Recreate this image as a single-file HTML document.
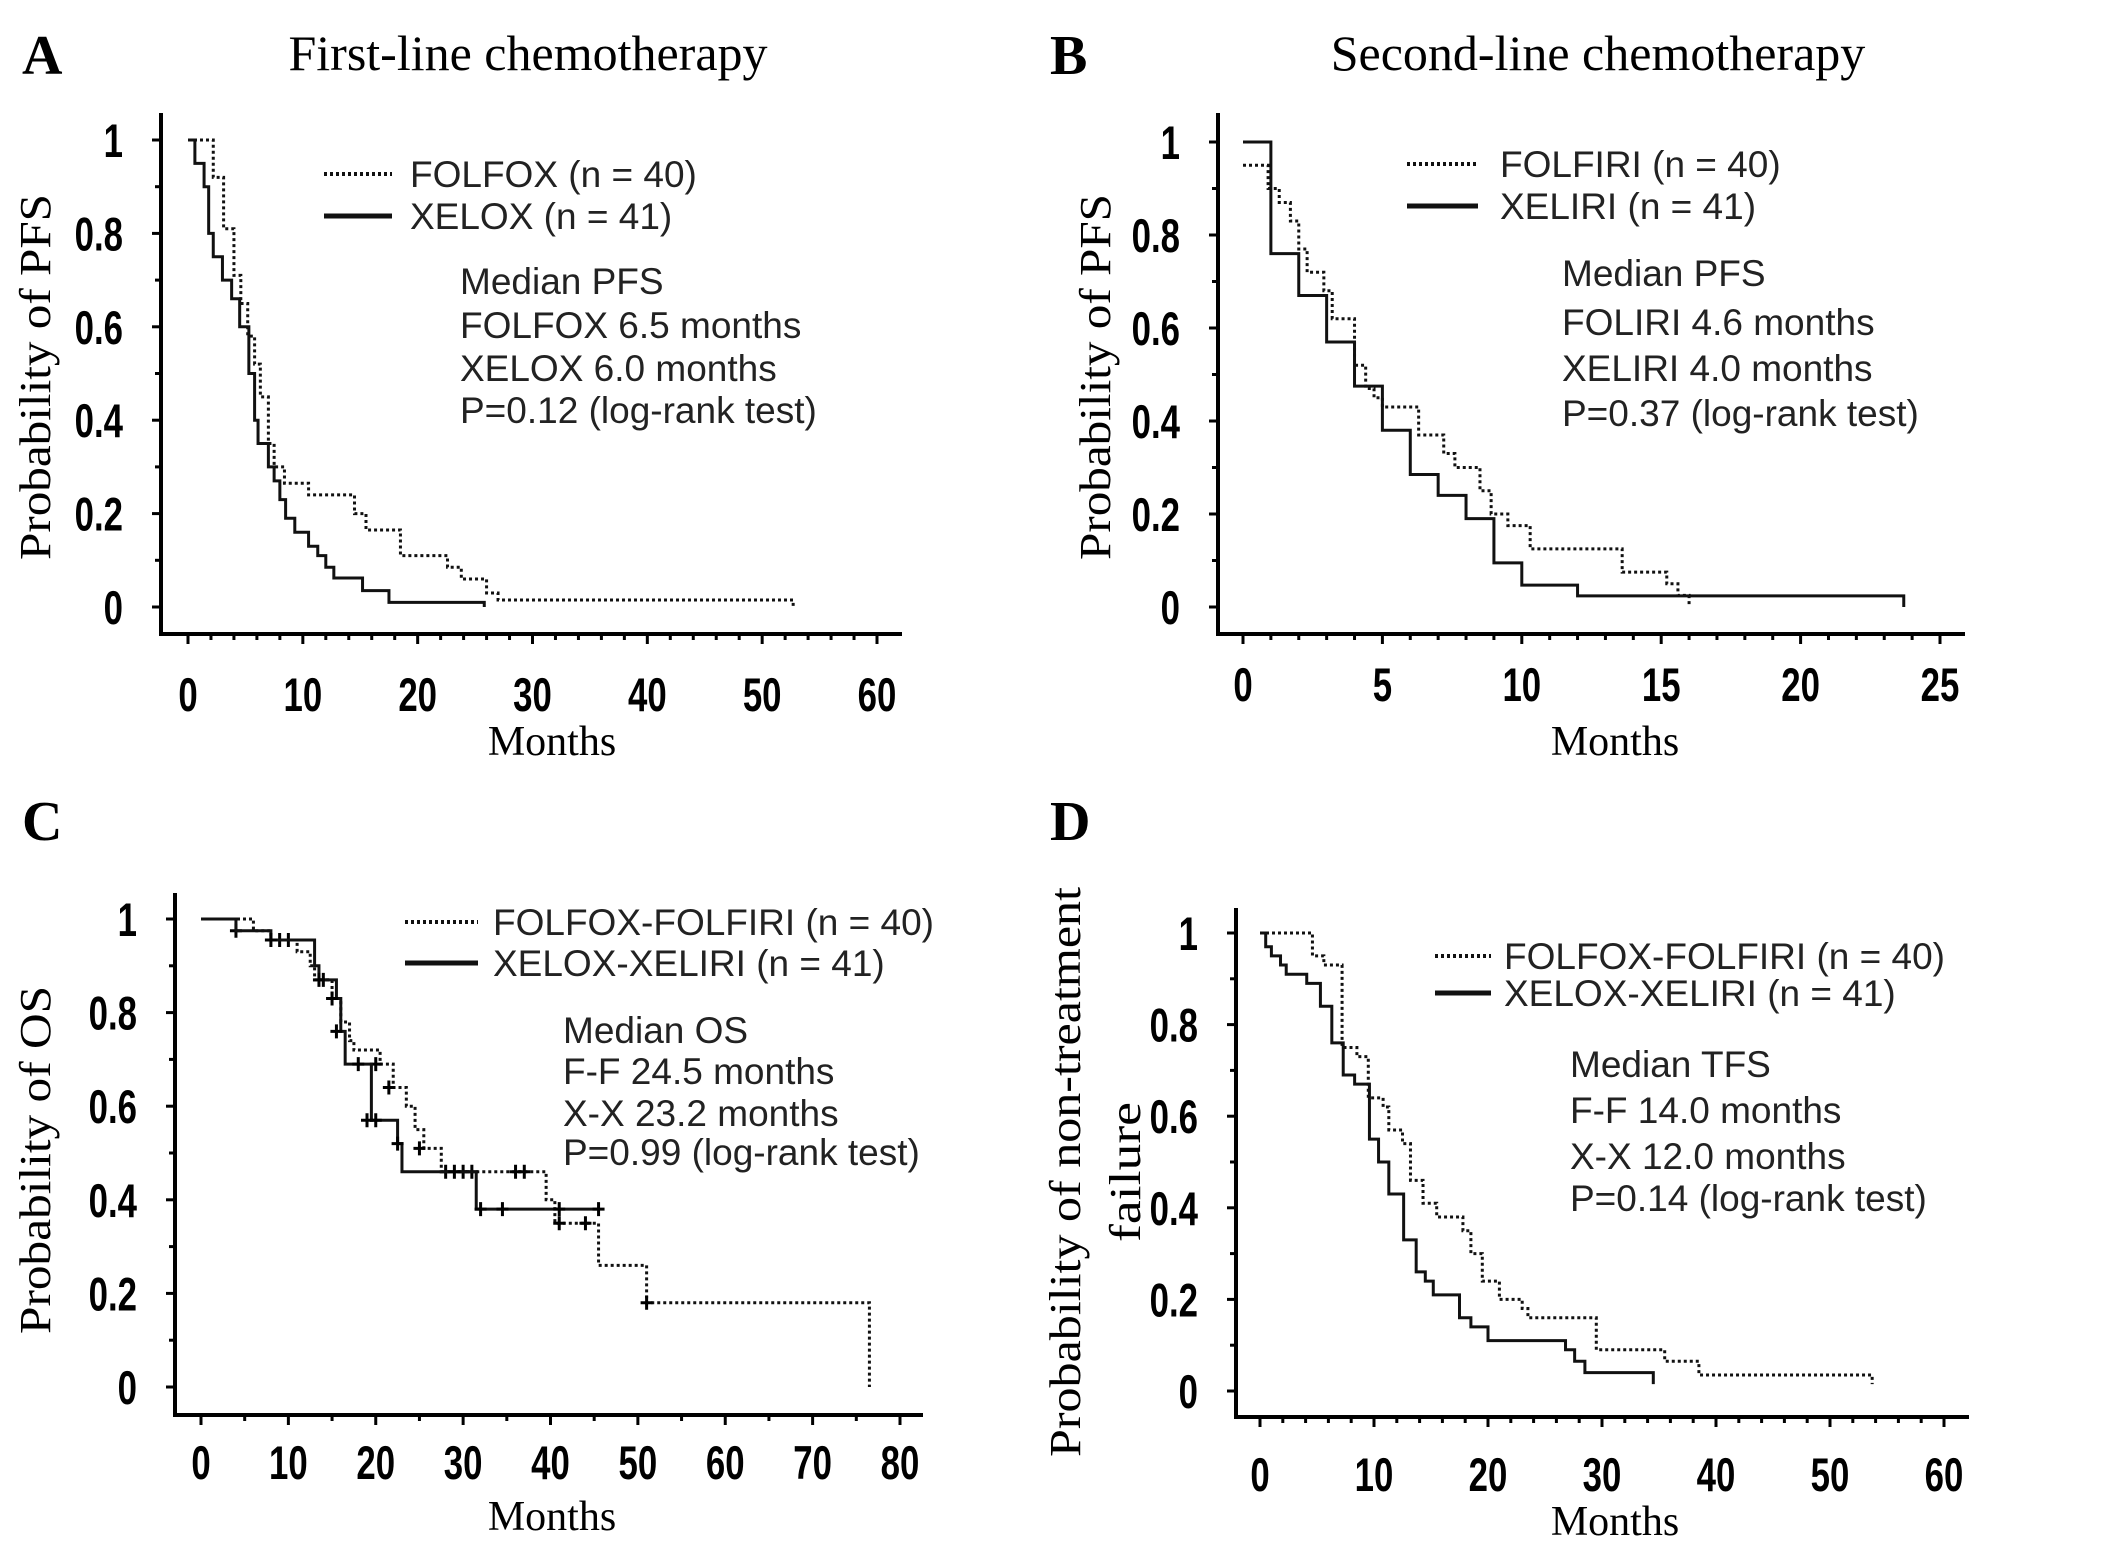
<!DOCTYPE html>
<html><head><meta charset="utf-8"><style>
html,body{margin:0;padding:0;background:#fff;}
svg{display:block;}
.sans{font-family:"Liberation Sans",Arial,sans-serif;}
.serif{font-family:"Liberation Serif","Times New Roman",serif;}
</style></head>
<body>
<svg id="fig" width="2126" height="1547" viewBox="0 0 2126 1547" xmlns="http://www.w3.org/2000/svg">
<rect width="2126" height="1547" fill="#fff"/>
</svg>
<script>
// ---- data ----
const yTickLabels = ["0","0.2","0.4","0.6","0.8","1"];
const xTicksA = [0,10,20,30,40,50,60];
const xTicksB = [0,5,10,15,20,25];
const xTicksC = [0,10,20,30,40,50,60,70,80];
const xTicksD = [0,10,20,30,40,50,60];

const aFolfoxT = [0,2.2,3.1,4,4.6,5.2,5.8,6.3,7,7.5,8.4,10.5,14.5,15.5,18.5,22.6,23.8,26,27,52.7];
const aFolfoxS = [1,0.92,0.81,0.71,0.65,0.58,0.52,0.45,0.35,0.30,0.265,0.24,0.20,0.165,0.11,0.085,0.06,0.03,0.015,0];
const aXeloxT = [0,0.6,1.4,1.8,2.2,3,3.8,4.5,5.3,5.8,6.1,7,7.5,8,8.5,9.3,10.5,11.3,12,12.7,15.2,17.5,21.5,25.8];
const aXeloxS = [1,0.95,0.9,0.8,0.75,0.7,0.66,0.6,0.5,0.4,0.35,0.3,0.27,0.23,0.19,0.16,0.13,0.11,0.085,0.062,0.035,0.01,0.01,0];

const bFolfiriT = [0,0.9,1.3,1.7,2,2.3,2.9,3.2,4,4.4,4.7,5,6.3,7.2,7.6,8.5,8.9,9.5,10.3,13.6,15.2,15.6,16];
const bFolfiriS = [0.95,0.9,0.87,0.83,0.77,0.72,0.68,0.62,0.52,0.47,0.45,0.43,0.37,0.33,0.30,0.25,0.2,0.175,0.125,0.075,0.05,0.025,0];
const bXeliriT = [0,1,2,3,4,5,6,7,8,9,10,12,23.7];
const bXeliriS = [1,0.76,0.67,0.57,0.475,0.38,0.285,0.24,0.19,0.095,0.047,0.024,0];

const cFfT = [0,6,8,11,12.5,13,15,16,17,17.5,20.5,22,23.5,24.5,25.5,27.5,39.5,40.5,45.5,51,76.5];
const cFfS = [1,0.975,0.955,0.93,0.9,0.87,0.83,0.78,0.74,0.72,0.69,0.64,0.6,0.55,0.51,0.46,0.4,0.35,0.26,0.18,0];
const cXxT = [0,4,8,13,13.5,15.5,16,16.5,19.5,22.5,23,31.5,45.5];
const cXxS = [1,0.975,0.955,0.9,0.87,0.83,0.76,0.69,0.57,0.52,0.46,0.38,0.38];
const cFfCensorT = [4,9,10,14,20,21.5,25,28,30,31,36,37,41,44,51];
const cFfCensorS = [0.975,0.955,0.955,0.87,0.69,0.64,0.51,0.46,0.46,0.46,0.46,0.46,0.35,0.35,0.18];
const cXxCensorT = [8,13.5,15,15.5,18,19,20,22.5,29,32,34.5,41,45.5];
const cXxCensorS = [0.955,0.87,0.83,0.76,0.69,0.57,0.57,0.52,0.46,0.38,0.38,0.38,0.38];

const dFfT = [0,4.6,5.6,7.2,8.5,9.5,10.8,11.3,12.5,13.2,14.3,15.5,17.8,18.5,19.5,21,23,23.5,29.5,35.5,38.5,53.7];
const dFfS = [1,0.95,0.93,0.75,0.73,0.64,0.62,0.57,0.54,0.46,0.41,0.38,0.35,0.3,0.24,0.2,0.18,0.16,0.09,0.065,0.035,0.015];
const dXxT = [0,0.5,1,1.8,2.3,4.1,5.3,6.3,7.3,8.3,9.6,10.4,11.3,12.6,13.7,14.5,15.2,17.5,18.5,20,26.8,27.6,28.5,30.3,34.5];
const dXxS = [1,0.97,0.95,0.93,0.91,0.89,0.84,0.76,0.69,0.67,0.55,0.5,0.43,0.33,0.26,0.24,0.21,0.16,0.14,0.11,0.09,0.065,0.04,0.04,0.015];

// ---- drawing ----
const NS = "http://www.w3.org/2000/svg";
const svg = document.getElementById('fig');
function mk(tag, attrs, parent){
  const e = document.createElementNS(NS, tag);
  for (const k in attrs) e.setAttribute(k, attrs[k]);
  (parent||svg).appendChild(e);
  return e;
}
function txt(str, attrs, parent){ const t = mk('text', attrs, parent); t.textContent = str; return t; }

function stepPath(T, S, sx, sy){
  let d = 'M' + sx(T[0]) + ',' + sy(S[0]);
  for (let i = 1; i < T.length; i++){
    d += ' H' + sx(T[i]) + ' V' + sy(S[i]);
  }
  return d;
}
const SX = 0.74;

function panel(c){
  const g = mk('g', {});
  
  
  const sx = v => c.x0 + (v - 0) * (c.xMaxPx - c.x0) / c.xMax;
  const sy = v => c.y0 + (c.y1 - c.y0) * v;
  const L = txt(c.letter, {x:c.letterX, y:c.letterY, 'font-size':56, 'font-weight':'bold', class:'serif'}, g);
  
  
  if (c.title){
    const t = txt(c.title, {x:c.titleX, y:c.titleY, 'font-size':50, 'text-anchor':'middle', class:'serif'}, g);
    
    
  }
  const ax = mk('path', {d:`M${c.axX},${c.axTop} V${c.axY} H${c.axRight}`, stroke:'#000', 'stroke-width':4, fill:'none'}, g);
  
  
  for (let k = 0; k <= 10; k++){
    const v = k/10, y = sy(v);
    mk('line', {x1:c.axX - (k%2===0?9:6), x2:c.axX, y1:y, y2:y, stroke:'#000', 'stroke-width':3}, g);
  }
  yTickLabels.forEach((lab, i) => {
    const t = txt(lab, {x:(c.axX - 38)/SX, y:sy(i*0.2) + 17, 'font-size':47, 'font-weight':'bold', 'text-anchor':'end', class:'sans', transform:`scale(${SX},1)`}, g);
    
    
  });
  for (let v = 0; v <= c.xMax + 1e-9; v += c.minor){
    const x = sx(v);
    const major = c.xTicks.some(m => Math.abs(m - v) < 1e-6);
    mk('line', {x1:x, x2:x, y1:c.axY, y2:c.axY + (major?10:6), stroke:'#000', 'stroke-width':3}, g);
  }
  c.xTicks.forEach(v => {
    const x = sx(v);
    const t = txt(String(v), {x:x/SX, y:c.xLabY + 17, 'font-size':47, 'font-weight':'bold', 'text-anchor':'middle', class:'sans', transform:`scale(${SX},1)`}, g);
    
    
  });
  const xt = txt('Months', {x:c.monthsX, y:c.monthsY + 14, 'font-size':42, 'text-anchor':'middle', class:'serif'}, g);
  
  
  c.yTitles.forEach(yt => {
    const t = txt(yt.text, {x:0, y:0, 'font-size':44, 'text-anchor':'middle', class:'serif', textLength:yt.len, lengthAdjust:'spacingAndGlyphs', transform:`translate(${yt.x},${yt.y}) rotate(-90)`}, g);
    
    
  });
  c.series.forEach(s => {
    const p = mk('path', {d:stepPath(s.T, s.S, sx, sy), stroke:'#111', 'stroke-width':3, fill:'none', 'stroke-dasharray': s.dotted ? '3 3' : 'none'}, g);
    
    
    if (s.cT){
      s.cT.forEach((t, i) => {
        const cx = sx(t), cy = sy(s.cS[i]);
        const m = mk('path', {d:`M${cx-6},${cy} H${cx+6} M${cx},${cy-7} V${cy+7}`, stroke:'#000', 'stroke-width':3}, g);
        
        
      });
    }
  });
  c.legend.forEach((l, i) => {
    const y = c.legY[i];
    const ln = mk('line', {x1:c.legX1, x2:c.legX2, y1:y, y2:y, stroke:'#111', 'stroke-width':l.dotted?4:5, 'stroke-dasharray':l.dotted?'3 3':'none'}, g);
    
    
    const t = txt(l.text, {x:c.legTX, y:y + 13, 'font-size':37, class:'sans', fill:'#222'}, g);
    
    
  });
  c.notes.forEach((n, i) => {
    const t = txt(n, {x:c.noteX, y:c.noteY[i] + 13, 'font-size':37, class:'sans', fill:'#222'}, g);
    
    
  });
}

panel({name:'panel-a', letter:'A', letterX:22, letterY:74, title:'First-line chemotherapy', titleX:528, titleY:70,
  x0:188, xMaxPx:877, xMax:60, y1:140, y0:607, axX:161, axTop:113, axY:634, axRight:902,
  xTicks:xTicksA, minor:2, xLabY:694, monthsX:552, monthsY:741,
  yTitles:[{text:'Probability of PFS', x:50, y:377, len:366}],
  series:[{name:'folfox-curve', T:aFolfoxT, S:aFolfoxS, dotted:true},{name:'xelox-curve', T:aXeloxT, S:aXeloxS, dotted:false}],
  legend:[{text:'FOLFOX (n = 40)', dotted:true},{text:'XELOX (n = 41)', dotted:false}],
  legX1:324, legX2:392, legY:[174,216], legTX:410,
  notes:['Median PFS','FOLFOX 6.5 months','XELOX 6.0 months','P=0.12 (log-rank test)'], noteX:460, noteY:[281,325,368,410]});

panel({name:'panel-b', letter:'B', letterX:1050, letterY:74, title:'Second-line chemotherapy', titleX:1598, titleY:70,
  x0:1243, xMaxPx:1940, xMax:25, y1:142, y0:607, axX:1218, axTop:113, axY:634, axRight:1965,
  xTicks:xTicksB, minor:1, xLabY:684, monthsX:1615, monthsY:741,
  yTitles:[{text:'Probability of PFS', x:1110, y:377, len:366}],
  series:[{name:'folfiri-curve', T:bFolfiriT, S:bFolfiriS, dotted:true},{name:'xeliri-curve', T:bXeliriT, S:bXeliriS, dotted:false}],
  legend:[{text:'FOLFIRI (n = 40)', dotted:true},{text:'XELIRI (n = 41)', dotted:false}],
  legX1:1407, legX2:1478, legY:[164,206], legTX:1500,
  notes:['Median PFS','FOLIRI 4.6 months','XELIRI 4.0 months','P=0.37 (log-rank test)'], noteX:1562, noteY:[273,322,368,413]});

panel({name:'panel-c', letter:'C', letterX:22, letterY:840, title:null,
  x0:201, xMaxPx:900, xMax:80, y1:919, y0:1387, axX:175, axTop:893, axY:1415, axRight:923,
  xTicks:xTicksC, minor:5, xLabY:1462, monthsX:552, monthsY:1516,
  yTitles:[{text:'Probability of OS', x:50, y:1160, len:348}],
  series:[{name:'folfox-folfiri-curve', T:cFfT, S:cFfS, dotted:true, cT:cFfCensorT, cS:cFfCensorS},{name:'xelox-xeliri-curve', T:cXxT, S:cXxS, dotted:false, cT:cXxCensorT, cS:cXxCensorS}],
  legend:[{text:'FOLFOX-FOLFIRI (n = 40)', dotted:true},{text:'XELOX-XELIRI (n = 41)', dotted:false}],
  legX1:405, legX2:478, legY:[922,963], legTX:493,
  notes:['Median OS','F-F 24.5 months','X-X 23.2 months','P=0.99 (log-rank test)'], noteX:563, noteY:[1030,1071,1113,1152]});

panel({name:'panel-d', letter:'D', letterX:1050, letterY:840, title:null,
  x0:1260, xMaxPx:1944, xMax:60, y1:933, y0:1391, axX:1236, axTop:908, axY:1417, axRight:1969,
  xTicks:xTicksD, minor:2, xLabY:1474, monthsX:1615, monthsY:1521,
  yTitles:[{text:'Probability of non-treatment', x:1080, y:1172, len:570},{text:'failure', x:1140, y:1172, len:140}],
  series:[{name:'folfox-folfiri-curve', T:dFfT, S:dFfS, dotted:true},{name:'xelox-xeliri-curve', T:dXxT, S:dXxS, dotted:false}],
  legend:[{text:'FOLFOX-FOLFIRI (n = 40)', dotted:true},{text:'XELOX-XELIRI (n = 41)', dotted:false}],
  legX1:1435, legX2:1491, legY:[956,993], legTX:1504,
  notes:['Median TFS','F-F 14.0 months','X-X 12.0 months','P=0.14 (log-rank test)'], noteX:1570, noteY:[1064,1110,1156,1198]});
</script>
</body></html>
